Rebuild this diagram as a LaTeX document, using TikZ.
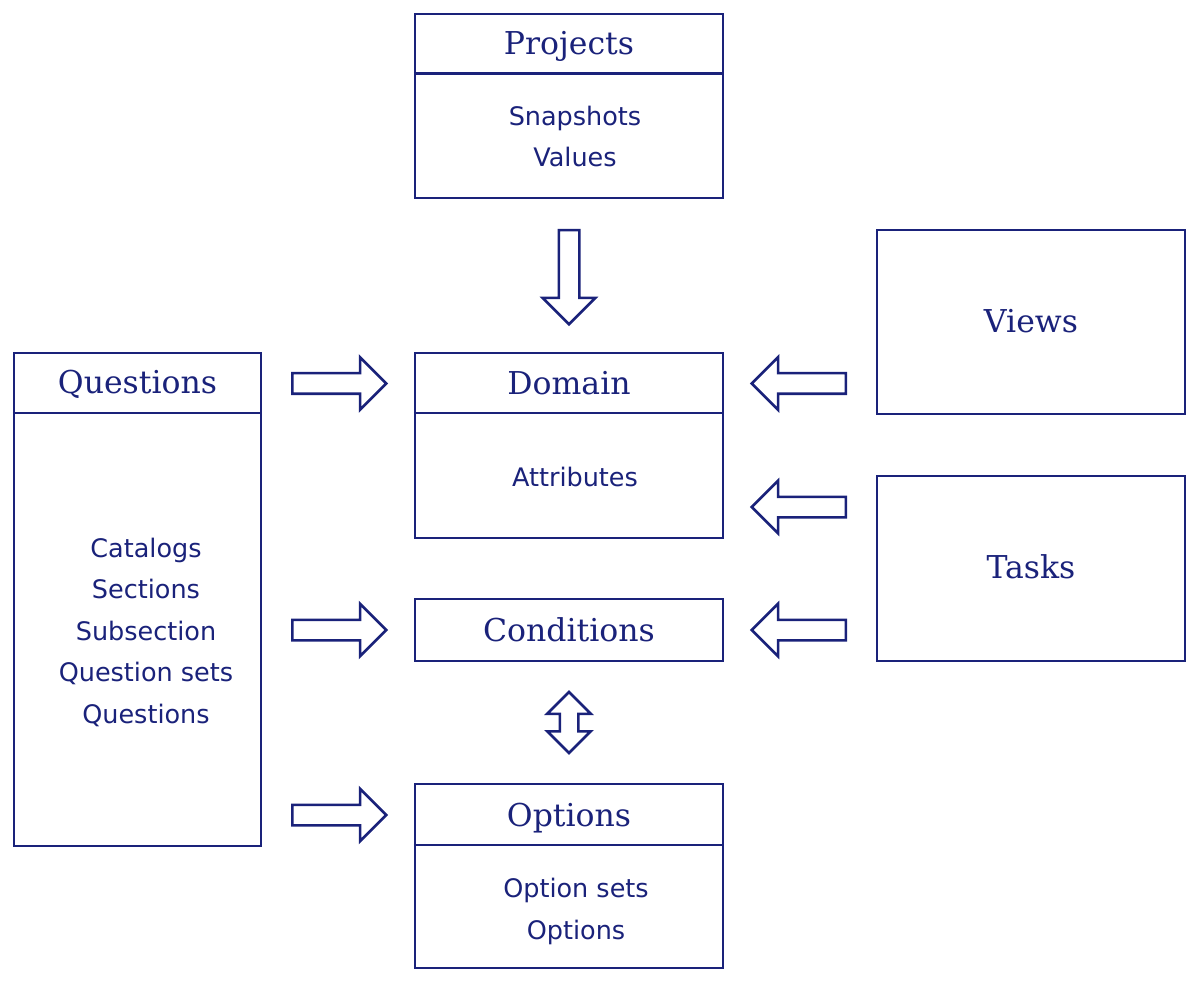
\documentclass[tikz,border=0pt]{standalone}
\usepackage{fontspec}
\setmainfont{DejaVu Sans}
\newfontfamily\headfont{DejaVu Serif}
\usetikzlibrary{shapes.arrows}
\definecolor{navy}{RGB}{26,34,122}
\tikzset{
  box/.style={draw=navy, line width=2.5pt, rectangle, inner sep=0pt, minimum width=308pt},
  divider/.style={draw=navy, line width=2.5pt},
  head/.style={text=navy, font=\headfont\fontsize{31.5}{31.5}\selectfont, anchor=base, inner sep=0pt},
  item/.style={text=navy, font=\fontsize{25.5}{41.5}\selectfont, align=center, anchor=base, inner sep=0pt},
  fatarrow/.style={draw=navy, line width=2.5pt, single arrow, minimum height=94pt, minimum width=50pt,
    single arrow head extend=16pt, single arrow tip angle=90, inner sep=9pt, anchor=tail},
  twoway/.style={draw=navy, line width=2.5pt, double arrow, minimum height=61pt, minimum width=41pt,
    double arrow head extend=12.5pt, double arrow tip angle=90, inner sep=8pt, shape border rotate=90}
}
\begin{document}
\begin{tikzpicture}[x=1pt,y=1pt,yscale=-1,xscale=1]
  \useasboundingbox (0,0) rectangle (1200,984);
  % boxes
  \node[box, minimum height=184pt] (projects) at (569,106) {};
  \node[box, minimum height=185pt] (domain) at (569,445.5) {};
  \node[box, minimum height=62pt] (conditions) at (569,630) {};
  \node[box, minimum height=184pt] (options) at (569,876) {};
  \node[box, minimum width=247pt, minimum height=493pt] (questions) at (137.5,599.5) {};
  \node[box, minimum height=184pt] (views) at (1031,322) {};
  \node[box, minimum height=185pt] (tasks) at (1031,568.5) {};
  \draw[divider] ([yshift=61pt]projects.north west) -- ([yshift=61pt]projects.north east);
  \draw[divider] ([yshift=61pt]domain.north west) -- ([yshift=61pt]domain.north east);
  \draw[divider] ([yshift=62pt]options.north west) -- ([yshift=62pt]options.north east);
  \draw[divider] ([yshift=61pt]questions.north west) -- ([yshift=61pt]questions.north east);
  % texts
  \node[head] (projectshead) at (569,55) {Projects};
  \node[item] (projectsitems) at (575,167) {Snapshots\\Values};
  \node[head] (domainhead) at (569,395) {Domain};
  \node[item] (domainitems) at (575,486) {Attributes};
  \node[head] (conditionshead) at (569,641) {Conditions};
  \node[head] (optionshead) at (569,826) {Options};
  \node[item] (optionsitems) at (576,939) {Option sets\\Options};
  \node[head] (questionshead) at (137.5,394) {Questions};
  \node[item] (questionsitems) at (146,723) {Catalogs\\Sections\\Subsection\\Question sets\\Questions};
  \node[head] (viewshead) at (1031,332.5) {Views};
  \node[head] (taskshead) at (1031,578.5) {Tasks};
  % block arrows
  \node[fatarrow, shape border rotate=270] (projarrow) at (569,229) {};
  \node[fatarrow] (qdomarrow) at (291,383.5) {};
  \node[fatarrow] (qcondarrow) at (291,630) {};
  \node[fatarrow] (qoptarrow) at (291,815) {};
  \node[fatarrow, shape border rotate=180] (viewarrow) at (847,383.5) {};
  \node[fatarrow, shape border rotate=180] (taskdomarrow) at (847,507) {};
  \node[fatarrow, shape border rotate=180] (taskcondarrow) at (847,630) {};
  \node[twoway] (condoptarrow) at (569,722.5) {};
\end{tikzpicture}
\end{document}
